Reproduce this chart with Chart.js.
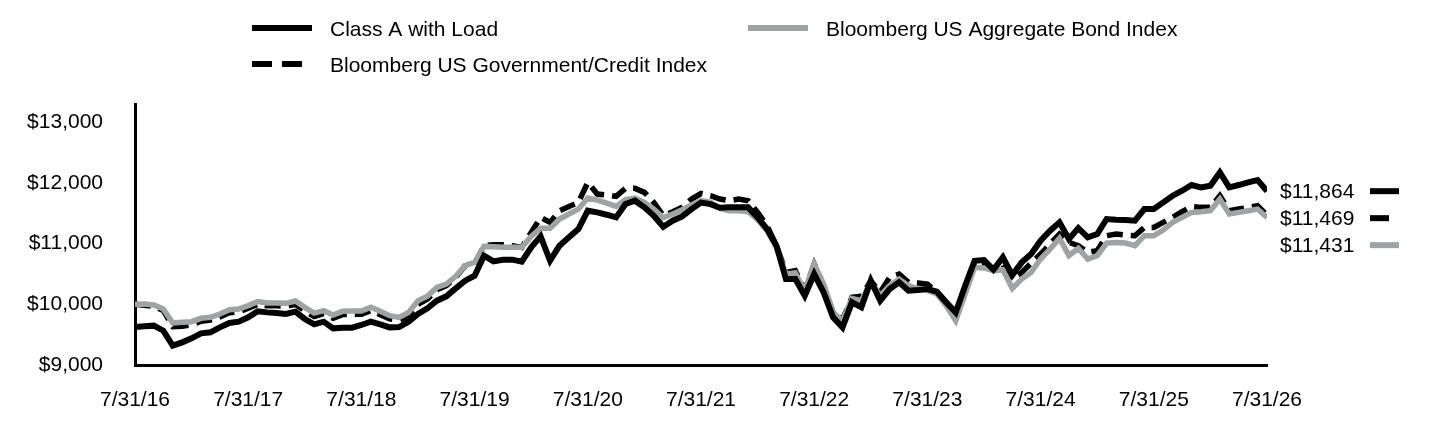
<!DOCTYPE html>
<html>
<head>
<meta charset="utf-8">
<script src="https://cdn.jsdelivr.net/npm/chart.js@4.4.1/dist/chart.umd.min.js"></script>
<style>
  html, body { margin: 0; padding: 0; background: #fff; }
  #wrap { position: relative; width: 1440px; height: 432px; }
</style>
</head>
<body>
<div id="wrap"><canvas id="growth" width="1440" height="432"></canvas></div>
<script>
// ---------------- data (monthly 7/31/16 .. 7/31/26) ----------------
var tickLabels = ['7/31/16', '7/31/17', '7/31/18', '7/31/19', '7/31/20', '7/31/21',
                  '7/31/22', '7/31/23', '7/31/24', '7/31/25', '7/31/26'];

var seriesNames = ['Class A with Load', 'Bloomberg US Aggregate Bond Index', 'Bloomberg US Government/Credit Index'];

var classA = [
  9625, 9637, 9648, 9565, 9318, 9373, 9439, 9522, 9538, 9620, 9692, 9714,
  9785, 9884, 9867, 9856, 9840, 9878, 9758, 9670, 9714, 9604, 9615, 9615,
  9659, 9714, 9670, 9620, 9626, 9714, 9840, 9935, 10060, 10131, 10263, 10389,
  10471, 10801, 10707, 10735, 10735, 10702, 10938, 11119, 10718, 10965, 11103, 11240,
  11542, 11514, 11476, 11432, 11652, 11707, 11597, 11459, 11278, 11377, 11449, 11569,
  11675, 11650, 11590, 11597, 11597, 11597, 11432, 11240, 10965, 10416, 10416, 10142,
  10499, 10197, 9785, 9620, 10032, 9950, 10389, 10060, 10252, 10362, 10224, 10235,
  10252, 10208, 10032, 9867, 10307, 10718, 10730, 10570, 10774, 10482, 10691, 10828,
  11048, 11212, 11350, 11075, 11256, 11103, 11158, 11405, 11394, 11388, 11377, 11569,
  11569, 11679, 11789, 11871, 11965, 11926, 11954, 12173, 11926, 11965, 12009, 12047,
  11864
];

var aggBond = [
  10000, 10005, 9989, 9923, 9692, 9703, 9714, 9769, 9785, 9840, 9912, 9923,
  9978, 10044, 10022, 10022, 10016, 10055, 9950, 9856, 9895, 9823, 9884, 9890,
  9890, 9950, 9884, 9813, 9785, 9867, 10060, 10135, 10279, 10334, 10460, 10636,
  10691, 10954, 10949, 10938, 10938, 10938, 11119, 11251, 11251, 11405, 11487, 11569,
  11750, 11718, 11668, 11613, 11723, 11750, 11679, 11569, 11427, 11487, 11558, 11635,
  11707, 11685, 11580, 11542, 11542, 11525, 11394, 11212, 10938, 10499, 10515, 10224,
  10663, 10334, 9867, 9730, 10098, 10060, 10372, 10142, 10307, 10416, 10307, 10252,
  10230, 10169, 9977, 9730, 10169, 10609, 10600, 10554, 10570, 10263, 10416, 10526,
  10746, 10910, 11086, 10801, 10922, 10746, 10801, 11009, 11020, 11009, 10965, 11130,
  11130, 11223, 11350, 11432, 11514, 11525, 11542, 11734, 11487, 11514, 11542, 11569,
  11431
];

var govCredit = [
  10000, 9985, 9965, 9900, 9630, 9640, 9660, 9720, 9740, 9790, 9860, 9875,
  9935, 10000, 9975, 9975, 9965, 10000, 9890, 9800, 9845, 9770, 9830, 9835,
  9835, 9895, 9830, 9760, 9735, 9815, 10000, 10087, 10241, 10307, 10444, 10636,
  10663, 10965, 10982, 10982, 10965, 10938, 11185, 11432, 11350, 11542, 11613, 11679,
  12009, 11816, 11800, 11778, 11910, 11910, 11844, 11679, 11459, 11525, 11597, 11734,
  11825, 11789, 11734, 11707, 11734, 11707, 11514, 11295, 10965, 10526, 10554, 10224,
  10663, 10307, 9867, 9747, 10114, 10131, 10389, 10197, 10444, 10499, 10362, 10351,
  10334, 10197, 10005, 9785, 10197, 10691, 10680, 10581, 10652, 10416, 10526, 10680,
  10828, 10993, 11158, 11020, 10965, 10856, 10883, 11130, 11158, 11141, 11130, 11267,
  11267, 11350, 11432, 11525, 11613, 11597, 11597, 11789, 11542, 11569, 11597, 11624,
  11469
];

var yTicks = [9000, 10000, 11000, 12000, 13000];
//-----------------------------------------------------------------------------------------

var FONT = "'Liberation Sans', Arial, sans-serif";
var GRAY = '#a0a3a3';

function toPoints(arr) {
  return arr.map(function (v, i) { return { x: i, y: v }; });
}
function money(v) {
  return '$' + Math.round(v).toLocaleString('en-US');
}

// legend at the top, two columns
var topLegend = {
  id: 'topLegend',
  afterDraw: function (chart) {
    var ctx = chart.ctx;
    var items = [
      { ds: 0, x: 252, y: 28 },
      { ds: 1, x: 748, y: 28 },
      { ds: 2, x: 252, y: 64 }
    ];
    ctx.save();
    ctx.font = '21px ' + FONT;
    ctx.textBaseline = 'middle';
    ctx.fillStyle = '#000';
    items.forEach(function (it) {
      var d = chart.data.datasets[it.ds];
      ctx.strokeStyle = d.borderColor;
      ctx.lineWidth = 6;
      ctx.lineCap = 'butt';
      ctx.setLineDash(it.ds === 2 ? [20, 10] : []);
      ctx.beginPath();
      ctx.moveTo(it.x, it.y);
      ctx.lineTo(it.x + 60, it.y);
      ctx.stroke();
      ctx.setLineDash([]);
      ctx.fillText(d.label, it.x + 78, it.y + 2);
    });
    ctx.restore();
  }
};

// ending values on the right, highest first, with a line sample after each
var endLabels = {
  id: 'endLabels',
  afterDraw: function (chart) {
    var ctx = chart.ctx;
    var ys = chart.scales.y;
    var prev = -1000;
    var sets = chart.data.datasets.map(function (d) {
      return { d: d, last: d.data[d.data.length - 1].y };
    }).sort(function (a, b) { return b.last - a.last; });
    ctx.save();
    ctx.font = '21px ' + FONT;
    ctx.textBaseline = 'middle';
    ctx.fillStyle = '#000';
    sets.forEach(function (s) {
      var y = Math.max(ys.getPixelForValue(s.last), prev + 27);
      prev = y;
      ctx.fillText(money(s.last), 1280, y + 1);
      ctx.strokeStyle = s.d.borderColor;
      ctx.lineWidth = 6;
      ctx.beginPath();
      ctx.moveTo(1370, y);
      ctx.lineTo(s.d.borderDash ? 1389 : 1399, y);
      ctx.stroke();
    });
    ctx.restore();
  }
};

var chart = new Chart(document.getElementById('growth'), {
  type: 'line',
  data: {
    datasets: [
      { label: seriesNames[0], data: toPoints(classA), borderColor: '#000', borderWidth: 6 },
      { label: seriesNames[1], data: toPoints(aggBond), borderColor: GRAY, borderWidth: 5.5 },
      { label: seriesNames[2], data: toPoints(govCredit), borderColor: '#000', borderWidth: 5.5, borderDash: [16, 8] }
    ]
  },
  options: {
    responsive: false,
    animation: false,
    devicePixelRatio: 1,
    layout: { padding: { top: 104, right: 173, left: 0, bottom: 0 } },
    elements: {
      point: { radius: 0 },
      line: { tension: 0, fill: false, borderJoinStyle: 'miter', borderCapStyle: 'butt' }
    },
    plugins: {
      legend: { display: false },
      tooltip: { enabled: false }
    },
    scales: {
      x: {
        type: 'linear',
        min: 0,
        max: classA.length - 1,
        grid: { display: false, drawTicks: false },
        border: { display: true, color: '#000', width: 3 },
        ticks: {
          stepSize: 12,
          padding: 23,
          color: '#000',
          font: { family: FONT, size: 21 },
          maxRotation: 0,
          autoSkip: false,
          callback: function (v) { return tickLabels[v / 12]; }
        },
        afterFit: function (s) { s.height = 432 - 365; }
      },
      y: {
        min: 9000,
        max: 13300,
        grid: { display: false, drawTicks: false },
        border: { display: true, color: '#000', width: 3 },
        afterBuildTicks: function (s) {
          s.ticks = yTicks.map(function (v) { return { value: v }; });
        },
        ticks: {
          padding: 32,
          color: '#000',
          font: { family: FONT, size: 21 },
          callback: function (v) { return money(v); }
        },
        afterFit: function (s) { s.width = 135; }
      }
    }
  },
  plugins: [topLegend, endLabels]
});
</script>
</body>
</html>
